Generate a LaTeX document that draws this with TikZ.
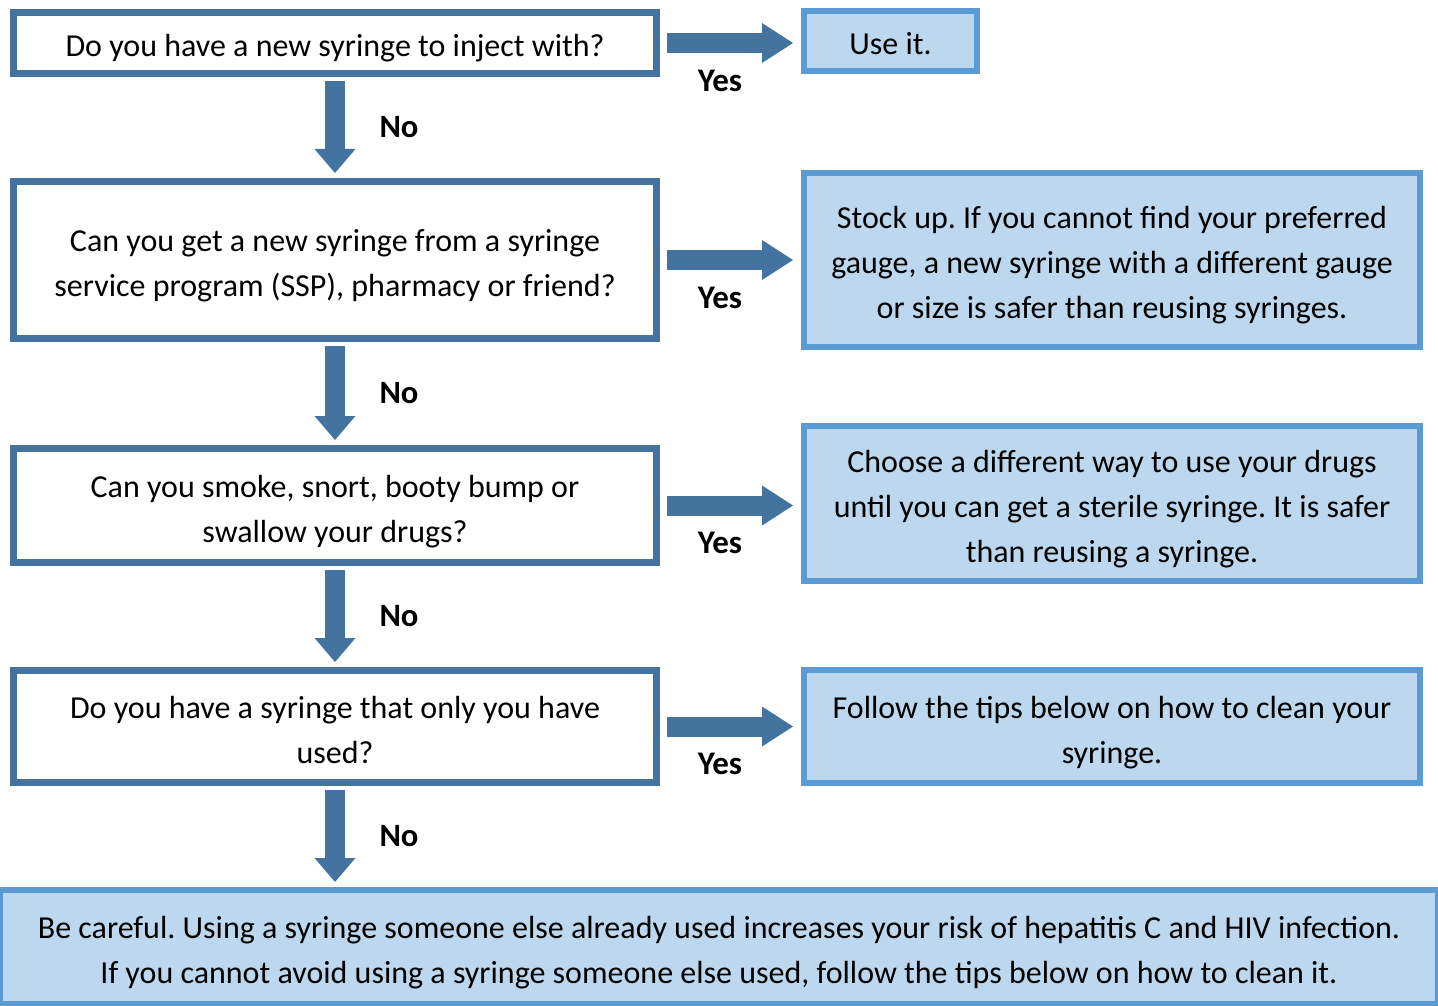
\documentclass[tikz,border=0pt]{standalone}
\usepackage{fontspec}
\setmainfont{Carlito}
\frenchspacing
\usetikzlibrary{arrows.meta}
\definecolor{qline}{HTML}{44739F}
\definecolor{aline}{HTML}{5B9BD5}
\definecolor{afill}{HTML}{BDD7EE}
\newcommand\ls{\rule[-4.25pt]{0pt}{22.5pt}}
\tikzset{
	qbox/.style={draw=qline, fill=white, line width=3.5pt, outer sep=1.75pt, inner sep=0pt, align=center, font=\fontsize{16}{22.5}\selectfont},
	abox/.style={qbox, draw=aline, fill=afill, line width=3pt, outer sep=1.5pt},
	downarr/.style={draw=qline, line width=10pt, -{Triangle[width=20.5pt,length=12pt,line width=0pt]}, shorten <=2pt, shorten >=2.5pt},
	rightarr/.style={draw=qline, line width=10pt, -{Triangle[width=20pt,length=15.5pt,line width=0pt]}, shorten <=3.5pt, shorten >=4pt},
	nolbl/.style={midway, xshift=32pt, font=\fontsize{16.3}{18}\selectfont\bfseries},
	yeslbl/.style={midway, xshift=-5.25pt, yshift=-18.75pt, font=\fontsize{16.5}{18}\selectfont\bfseries}
}
\begin{document}
\begin{tikzpicture}[x=0.5pt,y=-0.5pt]
	\useasboundingbox(0,0)rectangle(1438,1005);

	\coordinate(Q1)at(335,43);
	\coordinate(Q2)at(335,260);
	\coordinate(Q3)at(335,505.5);
	\coordinate(Q4)at(335,726.5);
	\coordinate(A1)at(890.5,41);
	\coordinate(A2)at(1112,260);
	\coordinate(A3)at(1112,503.5);
	\coordinate(A4)at(1112,726.5);
	\coordinate(E)at(719,947);

	\node[qbox, minimum width=321.5pt, minimum height=30.5pt](q1)at(Q1){\ls Do you have a new syringe to inject with?\ls};
	\node[qbox, minimum width=321.5pt, minimum height=78.5pt](q2)at(Q2){\ls Can you get a new syringe from a syringe\\service program (SSP), pharmacy or friend?\ls};
	\node[qbox, minimum width=321.5pt, minimum height=57pt](q3)at(Q3){\ls Can you smoke, snort, booty bump or\\swallow your drugs?\ls};
	\node[qbox, minimum width=321.5pt, minimum height=56pt](q4)at(Q4){\ls Do you have a syringe that only you have\\used?\ls};

	\node[abox, minimum width=86.5pt, minimum height=30pt](a1)at(A1){\ls Use it.\ls};
	\node[abox, minimum width=308pt, minimum height=87pt](a2)at(A2){\ls Stock up. If you cannot find your preferred\\gauge, a new syringe with a different gauge\\or size is safer than reusing syringes.\ls};
	\node[abox, minimum width=308pt, minimum height=77.5pt](a3)at(A3){\ls Choose a different way to use your drugs\\until you can get a sterile syringe. It is safer\\than reusing a syringe.\ls};
	\node[abox, minimum width=308pt, minimum height=56.5pt](a4)at(A4){\ls Follow the tips below on how to clean your\\syringe.\ls};
	\node[abox, minimum width=719pt, minimum height=57pt](end)at(E){\ls Be careful. Using a syringe someone else already used increases your risk of hepatitis C and HIV infection.\\If you cannot avoid using a syringe someone else used, follow the tips below on how to clean it.\ls};

	\draw[downarr](q1.south)--node[nolbl]{No}(q2.north);
	\draw[downarr](q2.south)--node[nolbl]{No}(q3.north);
	\draw[downarr](q3.south)--node[nolbl]{No}(q4.north);
	\draw[downarr](q4.south)--node[nolbl]{No}(q4.south|-end.north);

	\draw[rightarr](q1.east)--node[yeslbl]{Yes}(q1.east-|a1.west);
	\draw[rightarr](q2.east)--node[yeslbl]{Yes}(q2.east-|a2.west);
	\draw[rightarr](q3.east)--node[yeslbl]{Yes}(q3.east-|a3.west);
	\draw[rightarr](q4.east)--node[yeslbl]{Yes}(q4.east-|a4.west);
\end{tikzpicture}
\end{document}
